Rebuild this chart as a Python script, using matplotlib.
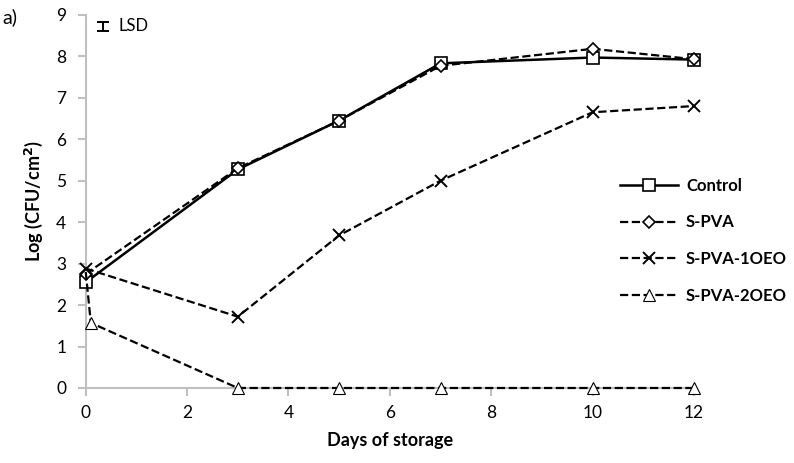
import numpy as np
import matplotlib
matplotlib.use("Agg")
import matplotlib.pyplot as plt

plt.rcParams['font.family'] = ['Lato', 'DejaVu Sans']

# data
days = [0, 3, 5, 7, 10, 12]
control = [2.55, 5.27, 6.45, 7.83, 7.97, 7.92]
s_pva = [2.75, 5.30, 6.45, 7.77, 8.18, 7.93]
s_pva_1oeo = [2.88, 1.72, 3.68, 5.00, 6.65, 6.80]
days_2oeo = [0, 0.1, 3, 5, 7, 10, 12]
s_pva_2oeo = [2.80, 1.57, 0, 0, 0, 0, 0]
lsd_x, lsd_y, lsd_err = 0.35, 8.72, 0.1

fig = plt.figure(figsize=(7.94, 4.63), dpi=100)
ax = fig.add_axes([0.108, 0.162, 0.766, 0.806])

ax.plot(days, control, '-', color='black', lw=1.8, marker='s', ms=8,
        mfc='white', mec='black', mew=1.2, label='Control', zorder=4)
ax.plot(days, s_pva, '--', color='black', lw=1.6, marker='D', ms=6,
        mfc='white', mec='black', mew=1.2, label='S-PVA', zorder=4)
ax.plot(days, s_pva_1oeo, '--', color='black', lw=1.6, marker='x', ms=8,
        mew=1.4, label='S-PVA-1OEO', zorder=4)
ax.plot(days_2oeo, s_pva_2oeo, '--', color='black', lw=1.6, marker='^', ms=8,
        mfc='white', mec='black', mew=0.8, markevery=[1, 2, 3, 4, 5, 6],
        label='S-PVA-2OEO', zorder=4)

# LSD bar
ax.errorbar([lsd_x], [lsd_y], yerr=lsd_err, fmt='none', ecolor='black',
            elinewidth=1.4, capsize=4, capthick=1.4)
ax.text(lsd_x + 0.3, lsd_y, 'LSD', fontsize=12, va='center', ha='left')

ax.set_xlim(0, 12)
ax.set_ylim(0, 9)
ax.set_xticks(range(0, 13, 2))
ax.set_yticks(range(0, 10))
for s in ['top', 'right']:
    ax.spines[s].set_visible(False)
for s in ['left', 'bottom']:
    ax.spines[s].set_color('#bfbfbf')
    ax.spines[s].set_linewidth(1.5)
ax.tick_params(axis='both', colors='#bfbfbf', labelcolor='black',
               labelsize=12.5, length=6, width=1.5, direction='out')
ax.tick_params(axis='y', pad=8)
ax.tick_params(axis='x', pad=6)
ax.set_xlabel('Days of storage', fontsize=13, fontweight='bold', labelpad=8)
ax.set_ylabel('Log (CFU/cm$^\\mathbf{2}$)', fontsize=13, fontweight='bold', labelpad=8)
ax.margins(0)
for ln in ax.lines:
    ln.set_clip_on(False)

leg = fig.legend(loc='center left', bbox_to_anchor=(0.781, 0.48), frameon=False,
                 fontsize=12, handlelength=3.5, handletextpad=0.45,
                 labelspacing=1.25, borderpad=0, borderaxespad=0)
for t in leg.get_texts():
    t.set_fontweight('bold')

fig.text(0.003, 0.963, 'a)', fontsize=14, va='center')

fig.savefig('out.png', dpi=100)
